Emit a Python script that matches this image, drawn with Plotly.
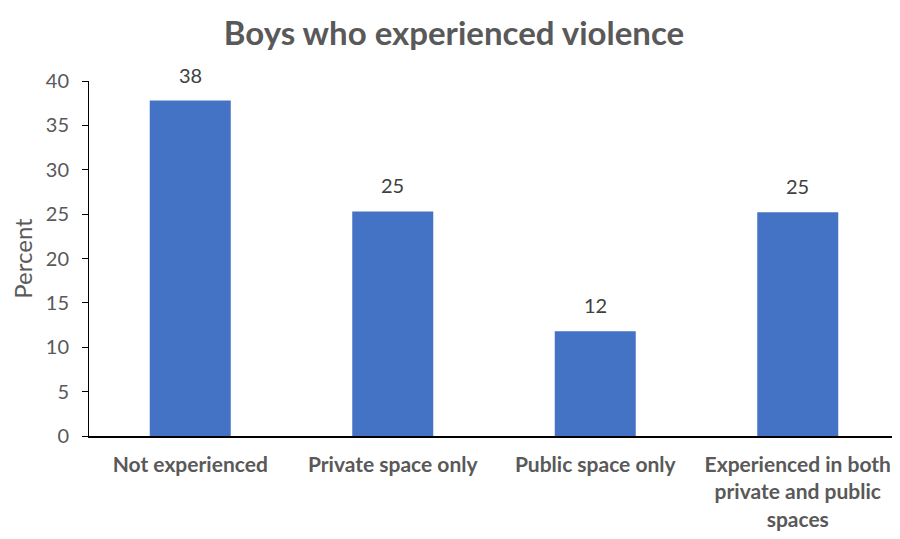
import plotly.graph_objects as go

categories = ["Not experienced", "Private space only", "Public space only",
              "Experienced in both<br>private and public<br>spaces"]
values = [37.8, 25.3, 11.8, 25.2]
labels = ["38", "25", "12", "25"]
y_ticks = [0, 5, 10, 15, 20, 25, 30, 35, 40]

FONT = "Lato, Open Sans, sans-serif"

fig = go.Figure(go.Bar(
    x=categories, y=values,
    marker=dict(color="#4472C4", line=dict(width=0)),
    hoverinfo="skip",
))

for c, v, t in zip(categories, values, labels):
    fig.add_annotation(x=c, y=v, text=t, showarrow=False, yanchor="bottom",
                       yshift=12, font=dict(family=FONT, size=20, color="#404040"))

fig.update_layout(
    width=892, height=531,
    margin=dict(l=81, r=1, t=73, b=103, autoexpand=False),
    paper_bgcolor="white", plot_bgcolor="white",
    bargap=0.6,
    showlegend=False,
    title=dict(text="<b>Boys who experienced violence</b>", x=0.5, xanchor="center",
               y=0.952, yanchor="middle",
               font=dict(family=FONT, size=33, color="#595959")),
    font=dict(family=FONT),
)
fig.update_xaxes(
    automargin=False,
    showline=True, linecolor="#000000", linewidth=1.5, ticks="",
    tickfont=dict(family=FONT, size=21, color="#595959", weight="bold"),
    ticklabelstandoff=9,
    showgrid=False,
)
fig.update_yaxes(
    automargin=False,
    range=[0, 40], tickvals=y_ticks, showgrid=False, zeroline=False,
    showline=True, linecolor="#000000", linewidth=1,
    ticks="outside", ticklen=6, tickcolor="#000000",
    tickfont=dict(family=FONT, size=20, color="#595959"),
    ticklabelstandoff=9,
    title=dict(text="Percent", font=dict(family=FONT, size=24, color="#595959"), standoff=14),
)

fig.write_html("out.html")
